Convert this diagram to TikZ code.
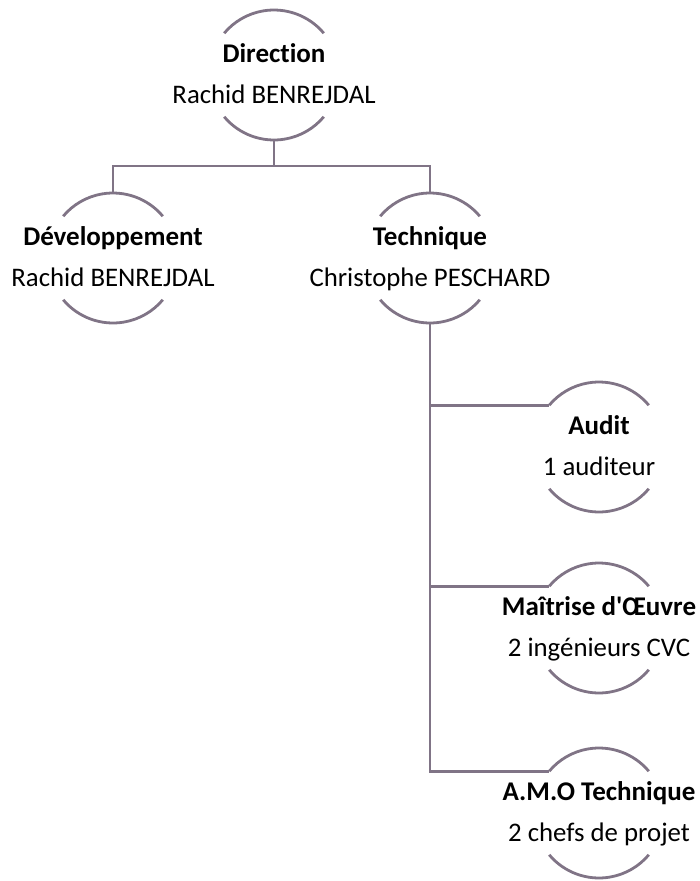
\documentclass[tikz,border=0pt]{standalone}
\usepackage{fontspec}
\setmainfont{Carlito}[Ligatures={NoCommon,TeXOff}]
\definecolor{lineC}{RGB}{128,116,134}
\newcommand\orgunit[4]{%
  \node[orgc] (#1) at (#2) {};
  \node[ttl] (#1t) at ([yshift=13pt]#1.center) {#3};
  \node[subt] (#1s) at ([yshift=-28pt]#1.center) {#4};
  \draw[arcline] (#1.40) arc[start angle=40,end angle=140,radius=65pt];
  \draw[arcline] (#1.220) arc[start angle=220,end angle=320,radius=65pt];
}
\begin{document}
\begin{tikzpicture}[x=1pt,y=1pt,
  orgc/.style={circle,minimum size=130pt,inner sep=0pt,outer sep=0pt},
  ttl/.style={anchor=base,inner sep=0pt,font=\fontsize{27}{32}\selectfont\bfseries},
  subt/.style={anchor=base,inner sep=0pt,font=\fontsize{26.8}{32}\selectfont},
  arcline/.style={draw=lineC,line width=2.8pt},
  conn/.style={draw=lineC,line width=2.8pt}]
\useasboundingbox (0,0) rectangle (699,-881);
\orgunit{dir}{274,-75}{Direction}{Rachid BENREJDAL}
\orgunit{dev}{113,-258}{Développement}{Rachid BENREJDAL}
\orgunit{tech}{430,-258}{Technique}{Christophe PESCHARD}
\orgunit{aud}{599,-447}{Audit}{1 auditeur}
\orgunit{moe}{599,-628}{Maîtrise d'Œuvre}{2 ingénieurs CVC}
\orgunit{amo}{599,-813}{A.M.O Technique}{2 chefs de projet}
\draw[conn] (dir.south) -- ++(0,-26) coordinate (j1);
\draw[conn] (j1) -| (dev.north);
\draw[conn] (j1) -| (tech.north);
\draw[conn] (tech.south) |- (amo.140);
\draw[conn] (tech.south) |- (aud.140);
\draw[conn] (tech.south) |- (moe.140);
\end{tikzpicture}
\end{document}
